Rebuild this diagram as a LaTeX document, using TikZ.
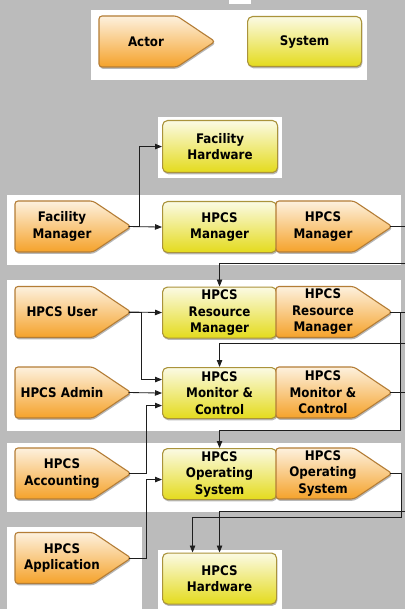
\documentclass[tikz,border=0pt]{standalone}
\usepackage{fontspec}
\setmainfont{DejaVu Sans}
\newfontfamily\boxface{DejaVu Sans Condensed}
\usetikzlibrary{arrows.meta,shadows}
\definecolor{bgc}{HTML}{BBBBBB}
\definecolor{actTop}{HTML}{FDF1DE}
\definecolor{actBot}{HTML}{F5A22A}
\definecolor{actLine}{HTML}{B47D36}
\definecolor{sysTop}{HTML}{FBFAE4}
\definecolor{sysBot}{HTML}{E4DB1C}
\definecolor{sysLine}{HTML}{AA933B}
\definecolor{wirec}{HTML}{1E1E1E}
\tikzset{
  panel/.style={fill=white, draw=none},
  boxfont/.style={font=\boxface\bfseries\fontsize{13.2}{16.5}\selectfont},
  softshadow/.style={drop shadow={shadow xshift=0.8pt, shadow yshift=-1.8pt, opacity=.28, fill=black}},
  actorshape/.style={draw=actLine, line width=1.1pt, rounded corners=3pt,
    top color=actTop, bottom color=actBot, softshadow},
  acttext/.style={boxfont, align=center, inner sep=0pt, text=black},
  sysbox/.style={boxfont, draw=sysLine, line width=1.1pt, rounded corners=5pt,
    top color=sysTop, bottom color=sysBot, minimum width=114pt, minimum height=51pt,
    inner sep=0pt, anchor=north west, align=center, softshadow, text=black},
  wire/.style={draw=wirec, line width=0.85pt},
  arr/.style={wire, -{Triangle[length=7pt,width=5.5pt]}},
}
% name, left, top, text
\newcommand\actornode[4]{%
  \path[actorshape] (#2,#3) -- (#2+78,#3) -- (#2+116,#3+25.5) -- (#2+78,#3+51) -- (#2,#3+51) -- cycle;
  \node[acttext] (#1) at (#2+47,#3+25.5) {#4};
  \coordinate (#1-tip) at (#2+113.5,#3+25.5);
}
\begin{document}
\begin{tikzpicture}[x=1pt,y=-1pt]
  \fill[bgc] (0,0) rectangle (405,609);
  \useasboundingbox (0,0) rectangle (405,609);
  % panels
  \fill[panel] (229,0) rectangle (251,4);
  \fill[panel] (91,10) rectangle (367,80);
  \fill[panel] (158,117) rectangle (282,178);
  \fill[panel] (7,195) rectangle (401,265);
  \fill[panel] (7,280) rectangle (401,431);
  \fill[panel] (7,443) rectangle (401,512);
  \fill[panel] (7,527) rectangle (142,609);
  \fill[panel] (158,550) rectangle (282,609);
  % legend
  \actornode{lga}{99}{16}{Actor}
  \node[sysbox, minimum height=50pt] (lgs) at (247,16) {System};
  % row: facility
  \node[sysbox, minimum width=115pt, minimum height=52pt] (fh) at (162,120) {Facility\\Hardware};
  \actornode{fm}{15}{201}{Facility\\Manager}
  \node[sysbox] (hm) at (162,201) {HPCS\\Manager};
  \actornode{hma}{276}{201}{HPCS\\Manager}
  % resource manager row
  \actornode{usr}{15}{286.5}{HPCS User}
  \node[sysbox] (rm) at (162,286.5) {HPCS\\Resource\\Manager};
  \actornode{rma}{276}{286.5}{HPCS\\Resource\\Manager}
  % monitor row
  \actornode{adm}{15}{367}{HPCS Admin}
  \node[sysbox] (mc) at (162,367) {HPCS\\Monitor \&\\Control};
  \actornode{mca}{276}{367}{HPCS\\Monitor \&\\Control}
  % OS row
  \actornode{acc}{15}{448}{HPCS\\Accounting}
  \node[sysbox] (os) at (162,448) {HPCS\\Operating\\System};
  \actornode{osa}{276}{448}{HPCS\\Operating\\System}
  % application / hardware
  \actornode{app}{15}{532.5}{HPCS\\Application}
  \node[sysbox] (hw) at (162,552.5) {HPCS\\Hardware};
  % free ends
  \coordinate (o1) at (405,226.5);
  \coordinate (in1) at (405,263);
  \coordinate (o2) at (405,312);
  \coordinate (j1) at (400,312);
  \coordinate (j2) at (400,430);
  \coordinate (in2) at (405,343);
  \coordinate (o3) at (405,392.5);
  \coordinate (j3) at (401.5,517);
  \coordinate (in3) at (405,511);
  % connectors
  \draw[arr] (fm-tip) -- (hm.west);
  \draw[arr] (fm-tip) -- ++(11,0) |- (fh.west);
  \draw[wire] (hma-tip) -- (o1);
  \draw[arr] (in1) -| (rm.north);
  \draw[arr] (usr-tip) -- (rm.west);
  \draw[arr] (usr-tip) -- ++(13,0) |- ([yshift=13.5pt]mc.west);
  \draw[arr] (adm-tip) -- (mc.west);
  \draw[arr] (acc-tip) -- ++(18,0) |- ([yshift=-12.5pt]mc.west);
  \draw[wire] (rma-tip) -- (o2);
  \draw[arr] (j1) -- (j2) -| (os.north);
  \draw[arr] (in2) -| (mc.north);
  \draw[wire] (mca-tip) -- (o3);
  \draw[arr] (app-tip) -- ++(18,0) |- ([yshift=-5.5pt]os.west);
  \draw[arr] (osa-tip) -| (j3) -| ([xshift=-27pt]hw.north);
  \draw[arr] (in3) -| (hw.north);
\end{tikzpicture}
\end{document}
